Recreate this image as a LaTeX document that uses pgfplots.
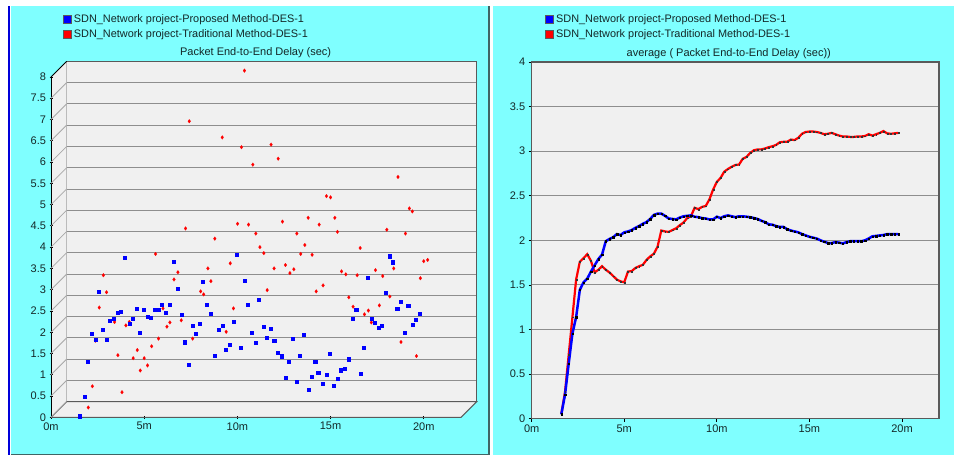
\documentclass[border=0pt]{standalone}
\usepackage{fontspec}
\setmainfont{Liberation Sans}
\usepackage{pgfplots}
\usepackage{pgfplotstable}
\pgfplotsset{compat=1.18}

\definecolor{panel}{HTML}{7FFFFF}
\definecolor{plate}{HTML}{F0F0F0}
\definecolor{edge}{HTML}{5A5A5A}
\definecolor{gridc}{HTML}{8E8E8E}
\definecolor{slant}{HTML}{A8A8A8}
\definecolor{txt}{HTML}{142828}

% scatter, left chart
\pgfplotstableread{
x y
1.55 0.03
1.79 0.48
1.95 1.30
2.16 1.96
2.38 1.82
2.56 2.96
2.77 2.06
2.98 1.82
3.16 2.28
3.36 2.32
3.59 2.46
3.75 2.49
3.97 3.75
4.20 2.20
4.36 2.32
4.58 2.56
4.74 1.99
4.97 2.53
5.18 2.37
5.34 2.35
5.56 2.53
5.77 2.53
5.95 2.65
6.17 2.46
6.38 2.65
6.56 3.67
6.77 3.03
6.99 2.42
7.17 1.77
7.38 1.23
7.60 2.16
7.76 1.96
7.99 2.20
8.15 3.20
8.36 2.65
8.58 2.44
8.76 1.46
8.97 2.06
9.19 2.16
9.37 1.60
9.58 1.70
9.79 2.25
9.94 3.82
10.17 1.63
10.38 3.22
10.56 2.65
10.78 1.99
10.99 1.75
11.15 2.77
11.39 2.13
11.56 1.87
11.76 2.08
11.97 1.80
12.15 1.52
12.37 1.44
12.58 0.94
12.76 1.32
12.98 1.85
13.19 0.84
13.35 1.46
13.57 1.94
13.80 0.66
13.96 0.96
14.17 1.30
14.33 1.06
14.57 0.80
14.78 1.01
14.94 1.49
15.16 0.75
15.37 0.91
15.55 1.11
15.76 1.15
15.98 1.37
16.16 2.32
16.37 2.53
16.59 1.03
16.76 1.63
16.98 3.29
17.19 2.32
17.35 2.23
17.57 2.10
17.75 2.16
17.96 2.94
18.18 3.79
18.34 3.65
18.57 2.56
18.78 2.72
18.95 1.99
19.16 2.63
19.39 2.18
19.55 2.30
19.77 2.44
}\scatterblue

\pgfplotstableread{
x y
2.00 0.23
2.22 0.73
2.38 1.80
2.59 2.58
2.81 3.34
2.98 2.94
3.41 2.24
3.59 1.46
3.81 0.59
4.02 2.16
4.20 2.24
4.41 1.39
4.63 1.58
4.79 1.10
5.00 1.39
5.18 1.22
5.40 1.67
5.61 3.84
5.77 1.85
6.01 2.56
6.22 2.13
6.38 2.23
6.60 3.24
6.81 3.41
6.99 2.28
7.22 4.44
7.42 6.96
7.60 1.85
8.03 2.96
8.19 2.89
8.42 3.50
8.58 3.20
8.79 4.20
9.19 6.58
9.40 2.01
9.62 3.62
9.79 2.56
10.01 4.55
10.22 6.35
10.38 8.15
10.60 4.53
10.83 5.94
10.99 4.32
11.21 4.00
11.42 3.86
11.60 2.99
11.81 6.41
11.97 3.50
12.19 6.08
12.42 4.60
12.58 3.58
12.82 3.39
13.03 3.48
13.19 4.32
13.40 3.84
13.62 4.05
13.80 4.69
14.01 3.82
14.23 2.96
14.39 4.53
14.60 3.10
14.78 5.20
15.00 5.17
15.23 4.69
15.37 4.36
15.59 3.43
15.82 3.36
15.98 2.82
16.21 2.60
16.43 3.34
16.59 3.98
16.82 2.42
17.03 2.51
17.19 2.23
17.41 3.46
17.62 2.63
17.80 3.32
18.02 4.41
18.18 2.84
18.39 3.50
18.62 5.65
18.78 1.77
19.02 4.32
19.23 4.91
19.39 4.84
19.61 1.44
19.82 3.27
20.00 3.67
20.21 3.70
}\scatterred

% averages, right chart
\pgfplotstableread{
x y
1.6 .05
1.8 .27
2.0 .62
2.2 .955
2.4 1.14
2.6 1.445
2.8 1.53
3.0 1.57
3.2 1.65
3.4 1.72
3.6 1.79
3.8 1.84
4.0 1.99
4.2 2.015
4.4 2.035
4.6 2.07
4.8 2.06
5.0 2.09
5.2 2.10
5.4 2.115
5.6 2.14
5.8 2.16
6.0 2.185
6.2 2.205
6.4 2.24
6.6 2.285
6.8 2.30
7.0 2.30
7.2 2.275
7.4 2.245
7.6 2.24
7.8 2.235
8.0 2.255
8.2 2.27
8.4 2.275
8.6 2.28
8.8 2.265
9.0 2.26
9.2 2.25
9.4 2.245
9.6 2.235
9.8 2.235
10.0 2.265
10.2 2.25
10.4 2.27
10.6 2.28
10.8 2.27
11.0 2.26
11.2 2.27
11.4 2.27
11.6 2.265
11.8 2.26
12.0 2.25
12.2 2.24
12.4 2.22
12.6 2.205
12.8 2.18
13.0 2.175
13.2 2.16
13.4 2.15
13.6 2.15
13.8 2.125
14.0 2.11
14.2 2.10
14.4 2.09
14.6 2.07
14.8 2.055
15.0 2.04
15.2 2.03
15.4 2.02
15.6 2.00
15.8 1.985
16.0 1.97
16.2 1.97
16.4 1.98
16.6 1.975
16.8 1.966
17.0 1.98
17.2 1.99
17.4 1.99
17.6 1.99
17.8 1.99
18.0 2.00
18.2 2.02
18.4 2.045
18.6 2.05
18.8 2.055
19.0 2.06
19.2 2.07
19.4 2.07
19.6 2.07
19.8 2.07
}\avgblue

\pgfplotstableread{
x y
1.6 .05
1.8 .30
2.0 .72
2.2 1.14
2.4 1.56
2.6 1.76
2.8 1.80
3.0 1.845
3.2 1.77
3.4 1.64
3.6 1.67
3.8 1.71
4.0 1.67
4.2 1.64
4.4 1.60
4.6 1.56
4.8 1.54
5.0 1.53
5.2 1.65
5.4 1.655
5.6 1.69
5.8 1.71
6.0 1.725
6.2 1.78
6.4 1.82
6.6 1.85
6.8 1.93
7.0 2.11
7.2 2.10
7.4 2.095
7.6 2.115
7.8 2.135
8.0 2.17
8.2 2.20
8.4 2.25
8.6 2.27
8.8 2.365
9.0 2.35
9.2 2.375
9.4 2.385
9.6 2.46
9.8 2.57
10.0 2.655
10.2 2.70
10.4 2.77
10.6 2.80
10.8 2.825
11.0 2.845
11.2 2.85
11.4 2.915
11.6 2.935
11.8 2.98
12.0 3.01
12.2 3.02
12.4 3.02
12.6 3.03
12.8 3.045
13.0 3.055
13.2 3.07
13.4 3.10
13.6 3.105
13.8 3.105
14.0 3.13
14.2 3.125
14.4 3.15
14.6 3.195
14.8 3.215
15.0 3.22
15.2 3.22
15.4 3.215
15.6 3.205
15.8 3.19
16.0 3.195
16.2 3.205
16.4 3.19
16.6 3.175
16.8 3.165
17.0 3.165
17.2 3.16
17.4 3.16
17.6 3.165
17.8 3.165
18.0 3.17
18.2 3.19
18.4 3.175
18.6 3.19
18.8 3.205
19.0 3.225
19.2 3.20
19.4 3.195
19.6 3.20
19.8 3.205
}\avgred

\pgfplotsset{
  opnet/.style={
    scale only axis,
    xmin=0, xmax=22,
    xtick={0,5,10,15,20},
    xticklabels={0m,5m,10m,15m,20m},
    /pgf/number format/assume math mode=true,
    ticklabel style={font=\fontsize{11}{12}\selectfont, text=txt},
    tick style={black, line width=.8pt},
    tick align=outside,
    major tick length=3pt,
    legend style={draw=none, fill=none, cells={anchor=west}, font=\fontsize{10.9}{12}\selectfont,
      text=txt, row sep=1.6pt, inner sep=0pt},
    reverse legend,
    legend cell align=left,
    every axis title shift=0pt,
    title style={font=\fontsize{11}{12}\selectfont, text=txt},
  },
  swatch/.style={legend image code/.code={
    \draw[edge, line width=.8pt, fill=#1] (0pt,-4pt) rectangle (8pt,4pt);}},
}

\begin{document}
\begin{tikzpicture}
% window
\path[use as bounding box] (0pt,0pt) rectangle (954pt,455pt);
\fill[white] (0pt,0pt) rectangle (954pt,455pt);
\fill[panel] (11pt,0pt) rectangle (488pt,449pt);
\fill[panel] (493pt,0pt) rectangle (954pt,449pt);
\fill[blue!85!black] (8.3pt,0pt) rectangle (10pt,449pt);
\fill[edge!70!teal] (488pt,0pt) rectangle (490pt,449pt);
\fill[edge!70!teal] (11pt,0pt) rectangle (488pt,1.2pt);

% back plane with the grid
\begin{axis}[
    at={(66.7pt,53.3pt)}, anchor=south west,
    scale only axis, width=410pt, height=340.3pt,
    xmin=0, xmax=22, ymin=0, ymax=8,
    xtick=\empty, ytick={0.5,1,...,7.5},
    yticklabels={},
    major tick length=0pt,
    ymajorgrids,
    grid style={gridc, line width=1pt},
    axis line style={edge, line width=1.2pt},
    axis background/.style={fill=plate},
]
\end{axis}

% side wall and floor
\fill[plate] (51pt,37.7pt) -- (66.7pt,53.3pt) -- (66.7pt,393.6pt) -- (51pt,378pt) -- cycle;
\filldraw[fill=plate, draw=edge, line width=1pt] (51pt,37.7pt) -- (461pt,37.7pt) -- (476.7pt,53.3pt) -- (66.7pt,53.3pt) -- cycle;

\begin{axis}[
    opnet,
    at={(51pt,37.7pt)}, anchor=south west,
    width=410pt, height=340.3pt,
    ymin=0, ymax=8,
    ytick={0,0.5,1,1.5,2,2.5,3,3.5,4,4.5,5,5.5,6,6.5,7,7.5,8},
    yticklabels={0,0.5,1,1.5,2,2.5,3,3.5,4,4.5,5,5.5,6,6.5,7,7.5,8},
    axis x line=bottom, axis y line=left,
    x axis line style={-, edge, line width=1pt},
    y axis line style={-, black, line width=.9pt},
    clip=false,
    title={Packet End-to-End Delay (sec)},
    title style={at={(0.499,1.0705)}, anchor=center},
    legend style={at={(0.029,1.191)}, anchor=north west},
]
\pgfplotsinvokeforeach{0,0.5,1,1.5,2,2.5,3,3.5,4,4.5,5,5.5,6,6.5,7,7.5}{
  \draw[slant, line width=.8pt] (axis cs:0,#1) -- ++(15.7pt,15.7pt);
}
\draw[black, line width=.8pt] (axis cs:0,8) -- ++(15.7pt,15.7pt);
\addplot[swatch=red, only marks, color=red, mark=diamond*, mark size=1.9pt, mark options={draw=red, fill=red, line width=.1pt}] table[x=x,y=y] {\scatterred};
\addplot[swatch=blue, only marks, color=blue, mark=square*, mark size=1.55pt, mark options={draw=blue, fill=blue, line width=.1pt}] table[x=x,y=y] {\scatterblue};
\legend{SDN\_Network project-Traditional Method-DES-1,SDN\_Network project-Proposed Method-DES-1}
\end{axis}

% right chart
\begin{axis}[
    opnet,
    at={(531.7pt,36.3pt)}, anchor=south west,
    width=407.3pt, height=356.7pt,
    ymin=0, ymax=4,
    ytick={0,0.5,1,1.5,2,2.5,3,3.5,4},
    yticklabels={0,0.5,1,1.5,2,2.5,3,3.5,4},
    xtick pos=left, ytick pos=left,
    ymajorgrids,
    grid style={gridc, line width=1pt},
    axis line style={edge, line width=1.3pt},
    axis background/.style={fill=plate},
    clip=false,
    title={average ( Packet End-to-End Delay (sec))},
    title style={at={(0.484,1.0224)}, anchor=center},
    legend style={at={(0.033,1.139)}, anchor=north west},
]
\addplot[swatch=red, color=red, line width=2.2pt, mark=square*, mark size=.45pt,
  mark options={draw=black!80, fill=black!80, line width=.1pt}] table[x=x,y=y] {\avgred};
\addplot[swatch=blue, color=blue, line width=2.5pt, mark=square*, mark size=.7pt,
  mark options={draw=black, fill=black, line width=.1pt}] table[x=x,y=y] {\avgblue};
\legend{SDN\_Network project-Traditional Method-DES-1,SDN\_Network project-Proposed Method-DES-1}
\end{axis}
\end{tikzpicture}
\end{document}
